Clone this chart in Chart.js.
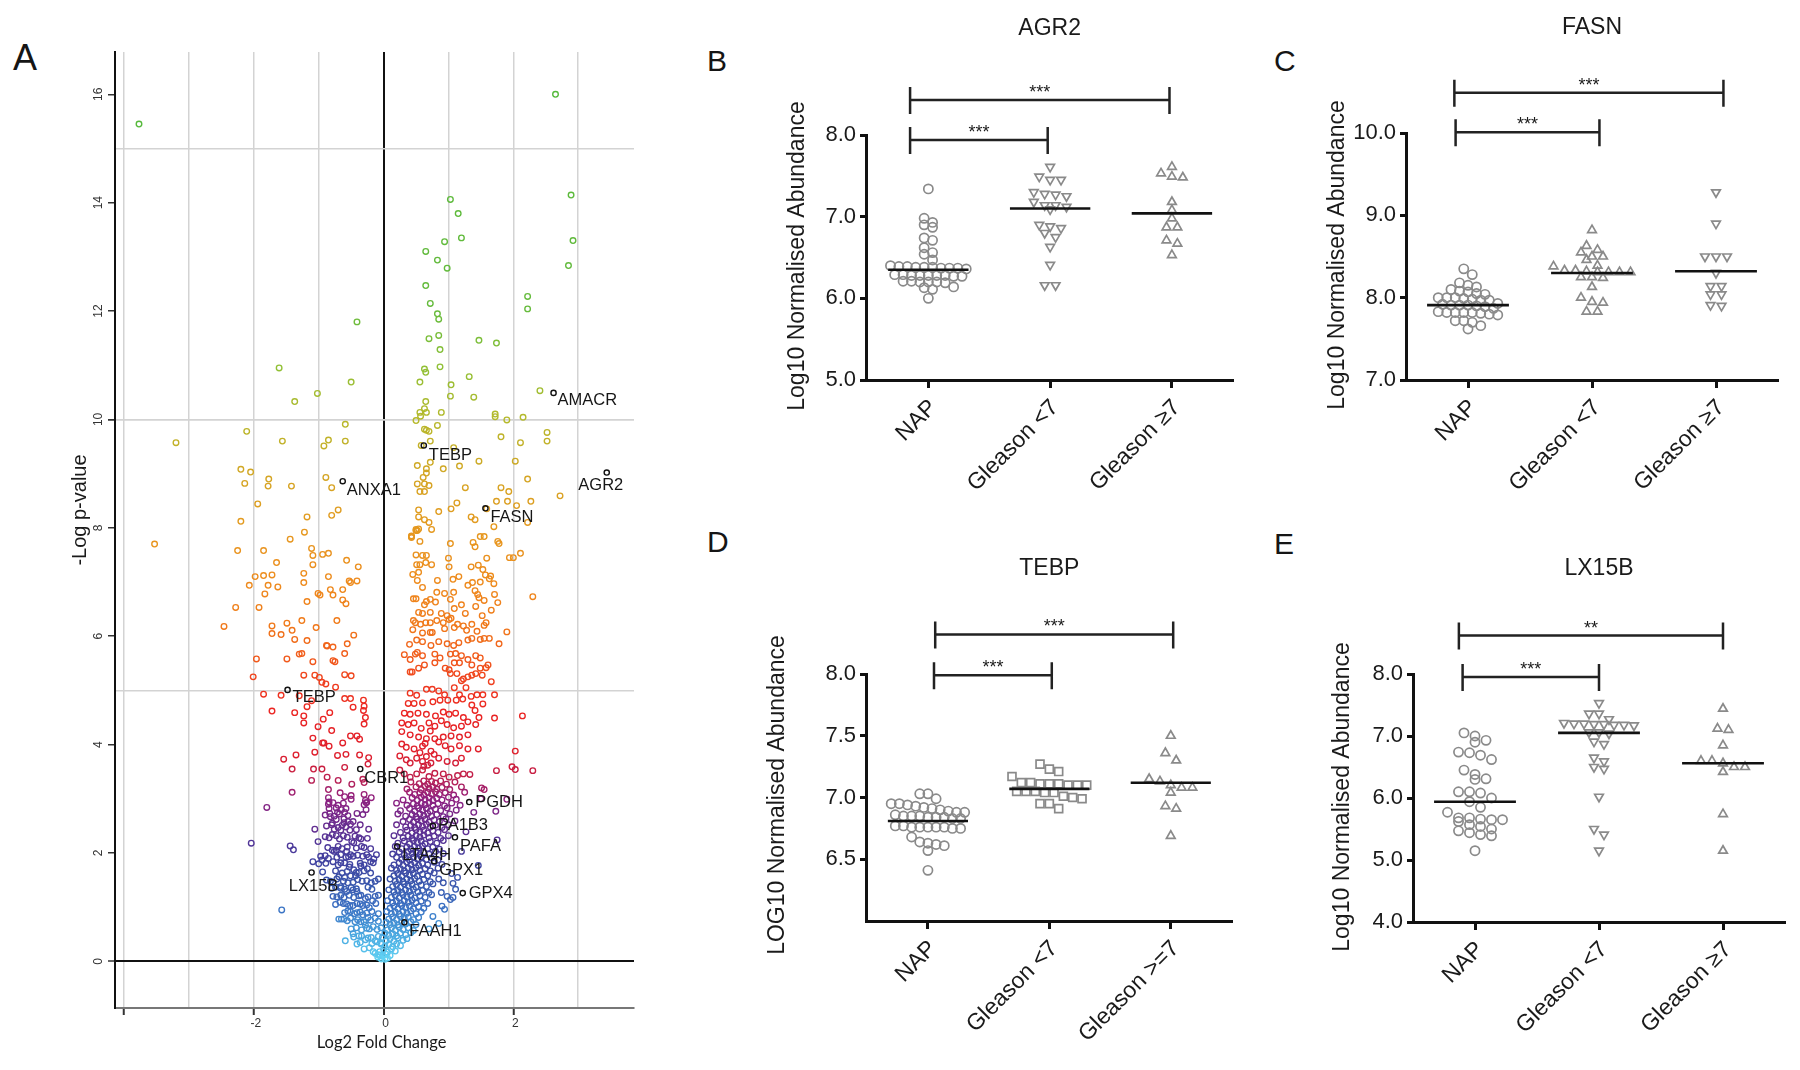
<!DOCTYPE html>
<html>
<head>
<meta charset="utf-8">
<script src="https://cdn.jsdelivr.net/npm/chart.js@4.4.1/dist/chart.umd.min.js"></script>
<style>
  html, body { margin: 0; padding: 0; background: #fff; }
  body { width: 1800px; height: 1070px; position: relative; overflow: hidden; font-family: 'Liberation Sans', Arial, sans-serif; }
  canvas { position: absolute; }
  .letter { position: absolute; line-height: 1; color: #151515; }
</style>
</head>
<body>
<div class="letter" style="left:13px;top:40px;font-size:36px">A</div>
<div class="letter" style="left:707px;top:46px;font-size:30px">B</div>
<div class="letter" style="left:1274px;top:46px;font-size:30px">C</div>
<div class="letter" style="left:707px;top:527px;font-size:30px">D</div>
<div class="letter" style="left:1274px;top:529px;font-size:30px">E</div>

<canvas id="volcano" width="680" height="1070" style="left:0;top:0"></canvas>
<canvas id="agr2" width="560" height="520" style="left:680px;top:0"></canvas>
<canvas id="fasn" width="560" height="520" style="left:1240px;top:0"></canvas>
<canvas id="tebp" width="560" height="550" style="left:680px;top:520px"></canvas>
<canvas id="lx15b" width="560" height="550" style="left:1240px;top:520px"></canvas>

<script>
// ---- volcano plot (panel A): [log2 fold change, -log p] ----
const volcanoPoints = [
  // green / yellow top part
  [-3.77,15.45],[2.65,16.0],[1.03,14.06],[1.15,13.8],[1.20,13.35],[0.94,13.28],[0.65,13.1],[0.83,12.94],[0.98,12.79],
  [2.89,14.14],[2.92,13.3],[2.85,12.84],[0.65,12.47],[0.72,12.14],[0.83,11.95],[0.85,11.85],[-0.41,11.8],[2.22,12.27],
  [2.22,12.04],[0.70,11.49],[0.85,11.55],[0.87,11.29],[1.47,11.46],[1.74,11.41],[0.87,10.97],[-1.61,10.95],[0.63,10.93],
  [0.65,10.87],[1.32,10.79],[-0.50,10.69],[0.56,10.69],[1.04,10.64],[-1.02,10.48],[-1.37,10.33],[1.03,10.43],[1.39,10.41],
  [2.41,10.53],[0.65,10.33],[0.63,10.2],[0.56,10.13],[0.66,10.13],[0.89,10.13],[0.50,9.98],[0.57,10.06],[1.72,10.1],
  [1.72,10.05],[1.90,9.99],[2.15,10.04],[-0.59,9.91],[-2.11,9.78],[-3.2,9.57],[-1.56,9.6],[-0.92,9.51],[-0.85,9.62],
  [-0.59,9.6],[0.63,9.82],[0.66,9.8],[0.70,9.78],[0.83,9.89],[0.72,9.6],[0.58,9.52],[1.08,9.48],[1.81,9.68],[2.11,9.57],
  [2.52,9.76],[2.52,9.6],[0.72,9.21],[1.47,9.23],[2.03,9.23],[0.52,9.15],[0.66,9.09],[0.66,9.01],[0.92,9.09],[1.17,9.14],
  [-2.2,9.08],[-2.05,9.03],[-1.77,8.9],[-2.14,8.82],[-1.78,8.77],[-1.42,8.77],[-0.89,8.93],[-0.8,8.74],[0.61,8.93],
  [0.52,8.81],[0.63,8.81],[0.7,8.78],[0.56,8.67],[0.63,8.67],[1.26,8.74],[1.81,8.74],[1.93,8.67],[2.22,8.9],[2.72,8.59],
  [-1.94,8.44],[1.13,8.46],[1.74,8.49],[1.91,8.49],[2.27,8.49],[2.05,8.41],[-0.7,8.33],[-0.8,8.23],[-1.18,8.2],[-2.2,8.12],
  [0.54,8.33],[0.54,8.2],[0.63,8.15],[0.7,8.1],[0.74,7.97],[0.85,8.3],[1.04,8.35],[1.35,8.2],[1.41,8.15],[1.59,8.35],
  [2.22,8.1],[1.7,8.02],[-1.22,7.92],[0.5,7.97],[0.52,7.95],[0.43,7.85],[0.43,7.82],[-3.53,7.7],[-1.44,7.79],
  // left side, orange
  [-2.25,7.58],[-1.85,7.58],[-1.11,7.62],[-1.09,7.49],[-0.94,7.51],[-0.85,7.53],[-1.65,7.36],[-1.09,7.32],[-0.57,7.4],
  [-0.39,7.28],[-1.23,7.16],[-1.98,7.1],[-1.85,7.12],[-1.72,7.13],[-0.85,7.1],[-2.07,6.94],[-1.78,6.94],[-1.63,6.91],
  [-1.23,6.99],[-0.53,7.02],[-0.41,7.02],[-0.51,6.99],[-1.83,6.78],[-1.01,6.79],[-0.98,6.76],[-0.78,6.76],[-0.82,6.86],
  [-0.63,6.86],[-1.18,6.64],[-0.63,6.67],[-0.58,6.6],[-2.28,6.53],[-1.92,6.53],[-2.46,6.18],[-1.72,6.19],[-1.72,6.05],
  [-1.49,6.24],[-1.58,6.03],[-1.41,6.11],[-1.26,6.29],[-1.04,6.16],[-0.72,6.29],[-1.37,5.94],[-1.18,5.92],[-0.88,5.83],
  [-0.87,5.82],[-0.78,5.8],[-0.56,5.86],[-0.46,6.02],
  // left side, red
  [-1.96,5.58],[-1.49,5.58],[-1.3,5.67],[-1.26,5.68],[-1.09,5.53],[-0.78,5.55],[-0.75,5.53],[-0.6,5.68],[-2.01,5.25],
  [-1.23,5.28],[-1.06,5.28],[-0.99,5.24],[-0.6,5.29],[-0.5,5.27],[-0.95,5.15],[-0.89,5.12],[-0.74,5.06],[-1.85,4.93],
  [-1.58,4.91],[-1.3,4.9],[-1.11,4.81],[-0.6,4.85],[-0.51,4.85],[-0.31,4.82],[-0.3,4.71],[-0.31,4.63],[-0.28,4.5],
  [-0.3,4.38],[-1.72,4.62],[-1.37,4.59],[-1.18,4.7],[-1.23,4.53],[-1.23,4.4],[-0.83,4.59],[-0.47,4.69],[-0.93,4.47],
  [-1.01,4.33],[-0.8,4.26],[-0.51,4.16],[-0.41,4.16],[-0.37,4.1],[-1.09,4.12],[-0.94,4.03],[-0.92,4.03],[-0.63,4.03],
  [-0.84,3.97],[-1.06,3.86],[-1.35,3.81],[-1.54,3.73],[-0.71,3.8],[-0.58,3.82],[-0.37,3.81],[-0.23,3.76],[-0.24,3.64],
  [-1.41,3.55],[-1.08,3.55],[-0.95,3.55],[-1.11,3.34],[-0.87,3.4],[-0.7,3.34],[-0.6,3.58],[-0.49,3.27],[-0.32,3.36],[-0.3,3.3],
  // left side, purple
  [-1.41,3.12],[-1.8,2.84],[-0.85,3.17],[-0.85,3.02],[-0.67,3.11],[-0.6,3.04],[-0.5,3.06],[-0.5,2.99],[-0.3,3.08],
  [-0.28,2.97],[-0.19,3.02],[-0.84,2.94],[-0.84,2.82],[-0.73,2.83],[-0.71,2.75],[-0.65,2.8],[-0.58,2.82],[-0.6,2.75],
  [-0.41,2.73],[-0.27,2.8],[-0.27,2.93],[-0.82,2.67],[-0.79,2.55],[-0.73,2.62],[-0.61,2.63],[-0.61,2.56],[-0.55,2.58],
  [-0.47,2.58],[-0.51,2.53],[-0.42,2.43],[-1.06,2.44],[-0.76,2.44],[-0.66,2.42],[-0.79,2.34],[-0.73,2.32],[-0.52,2.42],
  [-0.23,2.44],[-0.68,2.26],[-2.04,2.18],[-1.44,2.13],[-1.39,2.06],[-1.01,2.21],[-0.49,2.21],[-0.46,2.19],[-0.35,2.26],
  [-0.25,2.27],[-0.3,2.1],
  // left side, blue
  [-0.79,2.05],[-0.76,2.03],[-0.73,2.05],[-0.57,2.03],[-0.51,1.97],[-0.47,1.94],[-0.97,1.94],[-0.95,1.87],[-1.09,1.84],
  [-0.89,1.81],[-0.85,1.9],[-0.78,1.84],[-0.72,1.92],[-0.58,1.92],[-0.6,1.82],[-0.53,1.74],[-0.46,1.69],[-0.42,1.64],
  [-0.23,1.92],[-0.2,1.84],[-0.15,1.89],[-0.11,1.97],[-0.35,1.76],[-0.25,1.71],[-0.43,1.58],[-0.51,1.58],[-0.6,1.55],
  [-0.69,1.56],[-0.82,1.48],[-0.78,1.45],[-0.66,1.38],[-0.55,1.45],[-0.47,1.46],[-0.33,1.48],[-0.19,1.45],[-0.13,1.48],
  [-0.66,1.35],[-0.57,1.29],[-0.47,1.32],[-0.72,1.19],[-0.61,1.18],[-0.53,1.22],[-0.41,1.29],[-0.35,1.22],[-0.28,1.16],
  [-0.13,1.2],[-0.17,1.12],[-1.57,0.95],[-0.67,1.09],[-0.57,1.06],[-0.47,1.03],[-0.41,1.07],[-0.32,1.03],[-0.22,0.99],
  [-0.51,0.92],[-0.41,0.9],[-0.32,0.86],[-0.69,0.78],[-0.65,0.78],[-0.61,0.78],[-0.51,0.8],[-0.44,0.73],[-0.35,0.73],
  [-0.24,0.81],[-0.13,0.8],[-0.28,0.67],[-0.22,0.6],[-0.16,0.64],[-0.59,0.38],[-0.41,0.32],[-0.47,0.51],[-0.38,0.47],
  [-0.28,0.4],[-0.19,0.44],[-0.13,0.38],[-0.3,0.23],[-0.22,0.25],[-0.16,0.18],[-0.09,0.08],[-0.06,0.12],[-0.13,0.15],[-0.03,0.05],
  // left core, filled in
  [-0.85,2.9],[-0.78,2.93],[-0.7,2.88],[-0.62,2.92],[-0.3,2.89],[-0.26,2.93],[-0.9,2.7],[-0.83,2.73],[-0.76,2.68],
  [-0.68,2.72],[-0.55,2.69],[-0.32,2.71],[-0.88,2.5],[-0.8,2.52],[-0.7,2.47],[-0.64,2.51],[-0.58,2.48],[-0.36,2.52],
  [-0.9,2.3],[-0.84,2.28],[-0.62,2.32],[-0.56,2.29],[-0.44,2.31],[-0.38,2.28],[-0.86,2.1],[-0.7,2.12],[-0.64,2.08],
  [-0.56,2.11],[-0.42,2.09],[-0.34,2.12],[-0.2,2.08],[-0.9,1.95],[-0.66,1.97],[-0.54,1.93],[-0.4,1.96],[-0.32,1.94],
  [-0.26,1.97],[-1.0,1.8],[-0.7,1.78],[-0.66,1.82],[-0.52,1.79],[-0.36,1.81],[-0.3,1.78],[-0.16,1.82],[-0.94,1.65],
  [-0.74,1.67],[-0.64,1.63],[-0.56,1.66],[-0.38,1.64],[-0.3,1.67],[-0.2,1.63],[-0.88,1.5],[-0.72,1.52],[-0.62,1.48],
  [-0.4,1.51],[-0.26,1.49],[-0.08,1.52],[-0.8,1.35],[-0.74,1.37],[-0.6,1.33],[-0.5,1.36],[-0.42,1.34],[-0.24,1.37],
  [-0.18,1.33],[-0.78,1.2],[-0.66,1.22],[-0.46,1.18],[-0.38,1.21],[-0.24,1.19],[-0.08,1.22],[-0.74,1.05],[-0.62,1.07],
  [-0.52,1.03],[-0.36,1.06],[-0.26,1.04],[-0.12,1.07],[-0.6,0.9],[-0.55,0.93],[-0.45,0.88],[-0.36,0.91],[-0.26,0.89],
  [-0.18,0.92],[-0.08,0.88],[-0.56,0.75],[-0.4,0.77],[-0.3,0.73],[-0.2,0.76],[-0.08,0.74],[-0.5,0.6],[-0.42,0.62],
  [-0.34,0.58],[-0.26,0.61],[-0.1,0.59],[-0.04,0.62],[-0.46,0.45],[-0.34,0.47],[-0.24,0.43],[-0.08,0.46],[-0.02,0.44],
  [-0.36,0.35],[-0.18,0.33],[-0.1,0.36],[-0.04,0.34],
  // right side, orange
  [0.43,7.84],[0.5,7.95],[0.54,7.98],[0.56,7.75],[1.03,7.71],[1.38,7.73],[1.49,7.84],[1.55,7.84],[1.41,7.65],[1.59,7.44],
  [1.76,7.75],[1.78,7.71],[1.94,7.45],[2.0,7.45],[2.11,7.53],[2.3,6.73],[0.5,7.5],[0.6,7.49],[0.66,7.49],[1.0,7.44],
  [0.51,7.32],[0.56,7.32],[0.65,7.36],[0.74,7.32],[1.01,7.28],[1.35,7.28],[1.46,7.31],[0.45,7.14],[0.54,7.18],[0.52,7.03],
  [0.83,7.03],[1.07,7.05],[1.16,7.1],[1.3,6.94],[1.37,6.99],[1.49,7.0],[1.53,7.23],[1.57,7.13],[1.65,7.11],[1.7,6.97],
  [1.63,7.06],[0.6,6.9],[0.46,6.69],[0.5,6.69],[0.63,6.58],[0.66,6.64],[0.72,6.68],[0.8,6.63],[0.82,6.81],[0.94,6.79],
  [1.08,6.81],[1.03,6.68],[1.41,6.84],[1.45,6.77],[1.47,6.71],[1.55,6.66],[1.71,6.77],[1.76,6.62],[1.2,6.58],[1.09,6.51],
  [1.26,6.42],[1.42,6.55],[1.52,6.38],[1.66,6.48],[0.54,6.44],[0.6,6.42],[0.72,6.44],[0.89,6.42],[0.98,6.38],[1.04,6.33],
  [0.46,6.29],[0.49,6.25],[0.57,6.22],[0.65,6.25],[0.72,6.25],[0.82,6.29],[0.92,6.25],[1.01,6.31],[1.14,6.22],[1.23,6.19],
  [1.36,6.22],[1.58,6.25],[1.55,6.2],[1.9,6.08],[0.45,6.12],[0.6,6.06],[0.72,6.07],[0.75,6.07],[0.94,6.14],[1.09,6.16],
  [1.28,6.11],[1.44,6.09],[0.4,5.85],[0.51,5.93],[0.6,5.9],[0.73,5.83],[0.85,5.9],[0.98,5.86],[1.08,5.83],[1.16,5.88],
  [1.3,5.93],[1.36,5.96],[1.49,5.94],[1.55,5.96],[1.78,5.86],[1.63,5.96],
  // right side, red
  [0.32,5.66],[0.41,5.57],[0.49,5.67],[0.52,5.7],[0.6,5.64],[0.79,5.67],[0.87,5.6],[1.03,5.67],[1.11,5.68],[1.2,5.64],
  [1.3,5.57],[1.42,5.64],[1.49,5.6],[0.41,5.34],[0.44,5.34],[0.54,5.41],[0.63,5.47],[0.79,5.51],[0.95,5.41],[1.01,5.38],
  [1.09,5.51],[1.17,5.51],[1.36,5.47],[1.49,5.41],[1.58,5.42],[1.61,5.47],[0.41,4.95],[0.51,4.91],[0.66,5.02],[0.75,5.02],
  [0.85,4.99],[0.94,4.92],[1.03,5.31],[1.13,5.31],[1.2,5.18],[1.23,5.21],[1.3,5.25],[1.36,5.28],[1.42,5.31],[1.52,5.28],
  [1.66,5.16],[1.09,5.05],[1.17,4.92],[1.27,5.05],[1.35,4.89],[1.44,4.92],[1.53,4.92],[1.71,4.92],[0.38,4.76],[0.47,4.76],
  [0.6,4.77],[0.76,4.79],[0.87,4.82],[0.99,4.82],[1.12,4.82],[1.22,4.84],[1.36,4.73],[1.53,4.75],[0.32,4.58],[0.41,4.56],
  [0.53,4.58],[0.66,4.56],[0.8,4.53],[0.92,4.6],[1.01,4.56],[1.11,4.58],[1.23,4.5],[1.41,4.63],[1.47,4.5],[2.14,4.53],
  [1.71,4.49],[0.28,4.4],[0.38,4.37],[0.47,4.4],[0.7,4.4],[0.79,4.34],[0.89,4.44],[0.98,4.37],[1.08,4.31],[1.2,4.34],
  [1.3,4.42],[1.42,4.37],[0.28,4.24],[0.41,4.18],[0.54,4.14],[0.66,4.11],[0.79,4.11],[0.92,4.14],[1.04,4.16],[1.17,4.14],
  [1.3,4.18],[0.28,4.01],[0.35,3.95],[0.47,3.92],[0.6,3.97],[0.73,3.88],[0.85,4.05],[0.95,3.98],[1.04,3.92],[1.17,3.98],
  [1.3,3.92],[1.46,3.92],[2.03,3.88],[1.98,3.59],[2.03,3.54],[2.3,3.52],[1.74,3.52],[0.25,3.79],[0.35,3.72],[0.41,3.66],
  [0.51,3.75],[0.6,3.69],[0.73,3.66],[0.85,3.75],[0.98,3.69],[1.11,3.66],[1.2,3.75],[0.25,3.53],[0.32,3.46],[0.41,3.4],
  [0.51,3.46],[0.6,3.53],[0.7,3.41],[0.79,3.47],[0.92,3.46],[1.01,3.4],[1.14,3.43],[1.23,3.46],[1.33,3.45],
  [0.62,3.6],[0.68,3.62],[0.66,3.78],[0.56,3.85],[0.78,3.82],[0.64,4.02],[0.72,4.25],[0.58,4.3],
  // right core
  [0.42,3.31],[0.55,3.28],[0.62,3.33],[0.68,3.27],[0.74,3.32],[0.8,3.29],[0.88,3.33],[0.97,3.27],[1.1,3.31],
  [0.36,3.18],[0.5,3.22],[0.58,3.17],[0.64,3.23],[0.7,3.19],[0.76,3.22],[0.82,3.18],[0.9,3.21],[1.02,3.17],[1.2,3.22],
  [0.4,3.12],[0.48,3.08],[0.56,3.11],[0.62,3.07],[0.68,3.12],[0.74,3.09],[0.8,3.13],[0.86,3.08],[0.95,3.11],[1.08,3.07],[1.25,3.12],
  [0.3,2.98],[0.44,3.02],[0.52,2.97],[0.58,3.03],[0.64,2.99],[0.7,3.02],[0.76,2.97],[0.82,3.01],[0.9,2.98],[1.0,3.03],[1.12,2.99],[1.5,3.0],
  [0.2,2.92],[0.36,2.88],[0.46,2.91],[0.52,2.87],[0.58,2.92],[0.64,2.89],[0.7,2.93],[0.76,2.88],[0.84,2.91],[0.94,2.87],[1.05,2.92],[1.18,2.88],
  [0.26,2.78],[0.4,2.82],[0.48,2.77],[0.54,2.83],[0.6,2.79],[0.66,2.82],[0.72,2.77],[0.8,2.81],[0.88,2.78],[0.98,2.83],[1.12,2.79],
  [0.22,2.72],[0.34,2.68],[0.44,2.71],[0.5,2.67],[0.56,2.72],[0.62,2.69],[0.68,2.73],[0.74,2.68],[0.82,2.71],[0.92,2.67],[1.02,2.72],
  [0.3,2.58],[0.4,2.62],[0.46,2.57],[0.52,2.63],[0.58,2.59],[0.64,2.62],[0.7,2.57],[0.78,2.61],[0.86,2.58],[0.96,2.63],[1.1,2.59],
  [0.2,2.52],[0.34,2.48],[0.42,2.51],[0.48,2.47],[0.54,2.52],[0.6,2.49],[0.66,2.53],[0.72,2.48],[0.8,2.51],[0.9,2.47],[1.0,2.52],
  [0.26,2.38],[0.36,2.42],[0.44,2.37],[0.5,2.43],[0.56,2.39],[0.62,2.42],[0.68,2.37],[0.76,2.41],[0.84,2.38],[0.94,2.43],
  [0.16,2.32],[0.3,2.28],[0.38,2.31],[0.44,2.27],[0.5,2.32],[0.56,2.29],[0.62,2.33],[0.7,2.28],[0.78,2.31],[0.88,2.27],[1.0,2.32],
  [0.22,2.18],[0.32,2.22],[0.4,2.17],[0.46,2.23],[0.52,2.19],[0.58,2.22],[0.64,2.17],[0.72,2.21],[0.82,2.18],[0.92,2.23],
  [0.18,2.12],[0.28,2.08],[0.36,2.11],[0.42,2.07],[0.48,2.12],[0.54,2.09],[0.6,2.13],[0.68,2.08],[0.76,2.11],[0.86,2.07],
  [0.14,1.98],[0.24,2.02],[0.32,1.97],[0.38,2.03],[0.44,1.99],[0.5,2.02],[0.56,1.97],[0.62,2.01],[0.7,1.98],[0.8,2.03],[0.92,1.99],
  [0.2,1.92],[0.28,1.88],[0.34,1.91],[0.4,1.87],[0.46,1.92],[0.52,1.89],[0.58,1.93],[0.66,1.88],[0.74,1.91],[0.84,1.87],
  [0.16,1.78],[0.24,1.82],[0.3,1.77],[0.36,1.83],[0.42,1.79],[0.48,1.82],[0.54,1.77],[0.6,1.81],[0.68,1.78],[0.78,1.83],[0.9,1.79],
  [0.12,1.72],[0.2,1.68],[0.26,1.71],[0.32,1.67],[0.38,1.72],[0.44,1.69],[0.5,1.73],[0.56,1.68],[0.64,1.71],[0.72,1.67],[0.84,1.72],
  [0.16,1.58],[0.22,1.62],[0.28,1.57],[0.34,1.63],[0.4,1.59],[0.46,1.62],[0.52,1.57],[0.6,1.61],[0.68,1.58],[0.78,1.63],
  [0.1,1.52],[0.18,1.48],[0.24,1.51],[0.3,1.47],[0.36,1.52],[0.42,1.49],[0.48,1.53],[0.55,1.48],[0.62,1.51],[0.72,1.47],[0.85,1.52],
  [0.14,1.38],[0.2,1.42],[0.26,1.37],[0.32,1.43],[0.38,1.39],[0.44,1.42],[0.5,1.37],[0.58,1.41],[0.66,1.38],[0.76,1.43],
  [0.08,1.32],[0.16,1.28],[0.22,1.31],[0.28,1.27],[0.34,1.32],[0.4,1.29],[0.46,1.33],[0.53,1.28],[0.6,1.31],[0.7,1.27],
  [0.12,1.18],[0.18,1.22],[0.24,1.17],[0.3,1.23],[0.36,1.19],[0.42,1.22],[0.48,1.17],[0.56,1.21],[0.64,1.18],[0.74,1.23],
  [0.06,1.12],[0.14,1.08],[0.2,1.11],[0.26,1.07],[0.32,1.12],[0.38,1.09],[0.44,1.13],[0.5,1.08],[0.58,1.11],[0.68,1.07],
  [0.1,0.98],[0.16,1.02],[0.22,0.97],[0.28,1.03],[0.34,0.99],[0.4,1.02],[0.46,0.97],[0.54,1.01],[0.62,0.98],
  [0.05,0.92],[0.12,0.88],[0.18,0.91],[0.24,0.87],[0.3,0.92],[0.36,0.89],[0.42,0.93],[0.5,0.88],[0.58,0.91],
  [0.08,0.78],[0.14,0.82],[0.2,0.77],[0.26,0.83],[0.32,0.79],[0.38,0.82],[0.46,0.77],[0.54,0.81],
  [0.04,0.72],[0.1,0.68],[0.16,0.71],[0.22,0.67],[0.28,0.72],[0.34,0.69],[0.42,0.73],[0.5,0.68],
  [0.06,0.58],[0.12,0.62],[0.18,0.57],[0.24,0.63],[0.3,0.59],[0.38,0.62],[0.46,0.57],
  [0.02,0.52],[0.08,0.48],[0.14,0.51],[0.2,0.47],[0.26,0.52],[0.34,0.49],[0.42,0.53],
  [0.04,0.38],[0.1,0.42],[0.16,0.37],[0.22,0.43],[0.3,0.39],[0.36,0.42],
  [-0.04,0.32],[0.02,0.28],[0.08,0.31],[0.14,0.27],[0.2,0.32],[0.26,0.29],
  [-0.06,0.18],[0.0,0.22],[0.06,0.17],[0.12,0.23],[0.18,0.19],
  [-0.08,0.12],[-0.02,0.1],[0.04,0.13],[0.1,0.11],[-0.04,0.05],[0.02,0.04],[0.06,0.06],
  // right tail
  [1.46,1.77],[1.14,1.55],[1.11,1.33],[1.03,1.14],[0.94,0.96],[0.76,0.83],[0.92,1.45],[0.89,1.27],[1.2,2.03],[1.75,2.24],
  [1.9,2.99],[1.73,2.77],[1.55,3.17],[1.39,2.75],[1.27,2.39],[1.05,1.62],[0.98,1.2],[0.85,0.7],[0.7,0.6],[1.51,3.2],
  [1.07,1.18],[0.9,1.02],[1.07,1.44]
];

// labelled proteins on the volcano plot
const geneNames = ['AMACR','AGR2','TEBP','ANXA1','FASN','TEBP','CBR1','PGDH','PA1B3','PAFA','LTA4H','GPX1','GPX4','LX15B','FAAH1'];
const geneX = [2.62, 3.44, 0.62, -0.63, 1.57, -1.48, -0.36, 1.32, 0.76, 1.1, 0.21, 0.78, 1.22, -1.11, 0.32];
const geneY = [10.49, 9.02, 9.52, 8.86, 8.36, 5.01, 3.55, 2.94, 2.5, 2.29, 2.12, 1.85, 1.26, 1.64, 0.72];

const volcanoXTicks = [-4, -3, -2, -1, 0, 1, 2, 3];
const volcanoXLabels = [-2, 0, 2];
const volcanoYTicks = [0, 2, 4, 6, 8, 10, 12, 14, 16];
const volcanoYGuides = [5, 10, 15];

// ---- dot plots (panels B-E), Log10 normalised abundance per sample ----
const groupNames = ['NAP', 'Gleason <7', 'Gleason \u22657'];
const tebpGroupNames = ['NAP', 'Gleason <7', 'Gleason >=7'];

const agr2Nap = [7.34,6.98,6.93,6.9,6.87,6.74,6.71,6.62,6.56,6.54,6.47,
  6.4,6.39,6.38,6.38,6.37,6.37,6.37,6.36,6.38,6.39,
  6.29,6.28,6.28,6.27,6.28,6.29,6.27,6.28,6.28,
  6.21,6.2,6.19,6.2,6.21,6.2,6.14,6.13,6.11,6.0];
const agr2Low = [7.61,7.49,7.45,7.45,7.3,7.27,7.25,7.28,7.18,7.14,7.12,7.09,7.14,6.9,6.86,6.88,6.8,6.75,6.63,6.41,6.16,6.16];
const agr2High = [7.53,7.48,7.49,7.61,7.18,7.08,6.98,6.87,6.87,6.71,6.67,6.53];
const agr2Medians = [6.35, 7.1, 7.04];
const agr2Ticks = [5, 6, 7, 8];
const agr2Brackets = [[-0.15, 0.98, 7.94, '***'], [-0.15, 1.98, 8.43, '***']];

const fasnNap = [8.35,8.28,8.15,8.18,8.13,8.07,8.05,8.08,8.1,8.04,8.0,7.98,7.97,8.0,7.97,7.99,8.0,7.91,7.89,7.91,7.87,7.9,7.91,
  7.92,7.93,7.82,7.81,7.83,7.82,7.8,7.79,7.82,7.82,7.7,7.72,7.72,7.62,7.66];
const fasnLow = [8.82,8.58,8.5,8.63,8.55,8.5,8.46,8.39,8.38,8.33,8.33,8.31,8.31,8.31,8.31,8.32,8.25,8.25,8.24,8.13,8.0,7.95,7.94,7.83,7.83];
const fasnHigh = [9.28,8.9,8.5,8.5,8.5,8.3,8.14,8.14,8.04,8.04,7.9,7.91];
const fasnMedians = [7.91, 8.3, 8.32];
const fasnTicks = [7, 8, 9, 10];
const fasnBrackets = [[-0.1, 1.06, 10.01, '***'], [-0.11, 2.06, 10.49, '***']];

const tebpNap = [7.03,6.99,7.03,6.95,6.93,6.91,6.89,6.88,6.88,6.9,6.92,6.94,6.95,6.86,6.84,6.85,6.83,6.85,6.85,6.84,6.83,6.84,
  6.76,6.76,6.76,6.77,6.75,6.76,6.75,6.77,6.76,6.68,6.63,6.61,6.57,6.62,6.64,6.41];
const tebpLow = [7.27,7.23,7.21,7.17,7.11,7.1,7.12,7.12,7.11,7.1,7.11,7.1,7.05,7.04,7.05,7.05,7.04,7.0,7.01,6.99,6.95,6.91,6.95];
const tebpHigh = [7.5,7.36,7.3,7.15,7.13,7.08,7.04,7.08,7.1,6.93,6.91,6.69];
const tebpMedians = [6.81, 7.07, 7.12];
const tebpTicks = [6.5, 7, 7.5, 8];
const tebpBrackets = [[0.05, 1.02, 7.99, '***'], [0.06, 2.02, 8.32, '***']];

const lx15bNap = [7.05,6.93,6.9,7.0,6.74,6.62,6.69,6.73,6.45,6.31,6.3,6.38,6.1,6.08,6.1,5.94,6.0,5.85,5.77,5.68,5.66,5.65,5.65,
  5.68,5.62,5.54,5.47,5.41,5.39,5.44,5.5,5.57,5.15];
const lx15bLow = [7.53,7.36,7.27,7.36,7.2,7.19,7.18,7.18,7.19,7.17,7.2,7.21,7.06,7.04,7.06,6.87,6.91,6.65,6.5,6.47,6.59,6.02,5.5,5.41,5.15];
const lx15bHigh = [7.44,7.12,7.1,6.85,6.6,6.5,6.6,6.5,6.56,6.42,5.74,5.15];
const lx15bMedians = [5.94, 7.05, 6.56];
const lx15bTicks = [4, 5, 6, 7, 8];
const lx15bBrackets = [[-0.1, 1.0, 7.95, '***'], [-0.13, 2.0, 8.62, '**']];

// ---------------------------------------------------------------------
const SANS = "'Liberation Sans', Arial, sans-serif";
Chart.defaults.font.family = SANS;
Chart.defaults.color = '#1a1a1a';

// colour ramp of the volcano plot by -log p
const colorStops = [[0,'#62d6f5'],[0.5,'#48a5df'],[1.0,'#3b70c2'],[1.5,'#3a53aa'],[2.0,'#463c9c'],[2.5,'#662c90'],
  [3.0,'#902180'],[3.4,'#be1f4c'],[3.8,'#df1f2d'],[4.6,'#eb2422'],[5.1,'#ef3b1e'],[5.6,'#f15a1b'],[6.2,'#f0791a'],
  [7.0,'#ee8b1d'],[8.0,'#e5991f'],[9.0,'#d3a624'],[10.0,'#b5b92b'],[11.0,'#8fc036'],[12.0,'#66bb3c'],[17,'#4fb83a']];
function hexRgb(h) { const n = parseInt(h.slice(1), 16); return [n >> 16 & 255, n >> 8 & 255, n & 255]; }
function bandColor(y) {
  if (y <= colorStops[0][0]) return colorStops[0][1];
  for (let i = 1; i < colorStops.length; i++) {
    if (y <= colorStops[i][0]) {
      const t = (y - colorStops[i - 1][0]) / (colorStops[i][0] - colorStops[i - 1][0]);
      const a = hexRgb(colorStops[i - 1][1]), b = hexRgb(colorStops[i][1]);
      return 'rgb(' + a.map((v, k) => Math.round(v + (b[k] - v) * t)).join(',') + ')';
    }
  }
  return colorStops[colorStops.length - 1][1];
}

// where each protein name sits next to its point: [dx, dy, align]
const geneLabelPlacement = [[4,8,'left'],[-6,13,'center'],[5,10,'left'],[4,9,'left'],[5,9,'left'],[5,8,'left'],[4,9,'left'],
  [6,0,'left'],[5,0,'left'],[5,9,'left'],[5,9,'left'],[5,9,'left'],[6,0,'left'],[2,14,'center'],[5,9,'left']];

const volcanoDecor = {
  id: 'volcanoDecor',
  afterDatasetsDraw(chart) {
    const { ctx, scales: { x, y } } = chart;
    ctx.save();
    ctx.fillStyle = '#161616';
    ctx.font = '16.5px ' + SANS;
    ctx.textBaseline = 'middle';
    geneNames.forEach((g, i) => {
      const p = geneLabelPlacement[i];
      ctx.textAlign = p[2];
      ctx.fillText(g, x.getPixelForValue(geneX[i]) + p[0], y.getPixelForValue(geneY[i]) + p[1]);
    });
    ctx.restore();
  },
  afterDraw(chart) {
    const { ctx, chartArea: a, scales: { x, y } } = chart;
    ctx.save();
    ctx.fillStyle = '#333';
    ctx.font = '12px ' + SANS;
    ctx.textAlign = 'center';
    ctx.textBaseline = 'middle';
    volcanoYTicks.forEach(v => {
      ctx.save();
      ctx.translate(a.left - 16.5, y.getPixelForValue(v));
      ctx.rotate(-Math.PI / 2);
      ctx.fillText(String(v), 0, 0);
      ctx.restore();
    });
    volcanoXLabels.forEach(v => ctx.fillText(String(v), x.getPixelForValue(v) + 2, a.bottom + 16));
    // axis titles
    ctx.fillStyle = '#1a1a1a';
    ctx.font = '20px ' + SANS;
    ctx.save();
    ctx.translate(80, 510);
    ctx.rotate(-Math.PI / 2);
    ctx.fillText('-Log p-value', 0, 0);
    ctx.restore();
    ctx.font = "16.5px Lato, 'Open Sans', sans-serif";
    ctx.textBaseline = 'alphabetic';
    ctx.fillText('Log2 Fold Change', x.getPixelForValue(0) - 2, 1048);
    ctx.restore();
  }
};

new Chart(document.getElementById('volcano'), {
  type: 'scatter',
  data: {
    datasets: [
      {
        data: geneNames.map((g, i) => ({ x: geneX[i], y: geneY[i] })),
        pointRadius: 2.6, pointBorderWidth: 1.4,
        pointBorderColor: '#111', pointBackgroundColor: 'rgba(0,0,0,0)'
      },
      {
        data: volcanoPoints.map(p => ({ x: p[0], y: p[1] })),
        pointRadius: 2.8, pointBorderWidth: 1.35,
        pointBackgroundColor: 'rgba(0,0,0,0)',
        pointBorderColor: c => bandColor(c.raw ? c.raw.y : 0)
      }
    ]
  },
  options: {
    responsive: false, animation: false, events: [],
    layout: { padding: { left: 105, top: 52, right: 46, bottom: 22 } },
    plugins: { legend: { display: false }, tooltip: { enabled: false } },
    scales: {
      x: {
        type: 'linear', min: -4.14, max: 3.86,
        afterBuildTicks: s => { s.ticks = volcanoXTicks.map(v => ({ value: v })); },
        afterFit: s => { s.height = 40; },
        ticks: { display: false },
        grid: {
          color: c => (c.tick && c.tick.value === 0) ? '#111' : '#d3d3d3',
          lineWidth: c => (c.tick && c.tick.value === 0) ? 2 : 1.5,
          tickColor: c => (c.tick && c.tick.value % 2 === 0) ? '#333' : 'rgba(0,0,0,0)',
          tickLength: 7, tickWidth: 2
        },
        border: { color: '#777', width: 2 }
      },
      y: {
        type: 'linear', min: -0.86, max: 16.78,
        afterBuildTicks: s => {
          s.ticks = volcanoYTicks.concat(volcanoYGuides).sort((a, b) => a - b).map(v => ({ value: v }));
        },
        afterFit: s => { s.width = 10; },
        ticks: { display: false },
        grid: {
          color: c => {
            const v = c.tick ? c.tick.value : 1;
            return v === 0 ? '#111' : (volcanoYGuides.includes(v) ? '#d3d3d3' : 'rgba(0,0,0,0)');
          },
          lineWidth: c => (c.tick && c.tick.value === 0) ? 2 : 1.5,
          tickColor: c => (c.tick && volcanoYTicks.includes(c.tick.value)) ? '#333' : 'rgba(0,0,0,0)',
          tickLength: 7, tickWidth: 1.5
        },
        border: { color: '#111', width: 2 }
      }
    }
  },
  plugins: [volcanoDecor]
});

// ---- dot plot panels ----
const markerStyles = {
  circle: { pointStyle: 'circle', radius: 4.6, rotation: 0 },
  up: { pointStyle: 'triangle', radius: 5, rotation: 0 },
  down: { pointStyle: 'triangle', radius: 5, rotation: 180 },
  square: { pointStyle: 'rect', radius: 5.6, rotation: 0 }
};

// scatter-dot layout: values close in height share a row, spread evenly round the group centre (px)
function rowSpread(values, pxPerUnit, binPx, stepPx) {
  const order = values.map((v, i) => i).sort((a, b) => values[b] - values[a]);
  const out = new Array(values.length);
  let bin = [];
  const flush = () => {
    bin.forEach((idx, k) => { out[idx] = (k - (bin.length - 1) / 2) * stepPx; });
    bin = [];
  };
  order.forEach(i => {
    if (bin.length && (values[bin[0]] - values[i]) * pxPerUnit > binPx) flush();
    bin.push(i);
  });
  flush();
  return out;
}

function dotPanel(p) {
  const cv = document.getElementById(p.id);
  const W = cv.width, H = cv.height;
  const yW = 70, xH = 40;
  const pxY = (p.area.bottom - p.area.top) / (p.yMax - p.yMin);
  const pxX = (p.area.right - p.area.left) / (p.xMax - p.xMin);

  const datasets = [];
  p.medians.forEach((m, i) => datasets.push({
    data: [{ x: i - 0.33, y: m }, { x: i + 0.33, y: m }],
    showLine: true, borderColor: '#111', borderWidth: 2.6, pointRadius: 0
  }));
  p.groups.forEach((vals, i) => {
    const st = markerStyles[p.shapes[i]];
    const off = rowSpread(vals, pxY, p.binPx, p.steps[i]);
    datasets.push({
      data: vals.map((v, j) => ({ x: i + off[j] / pxX, y: v })),
      pointStyle: st.pointStyle, pointRotation: st.rotation, pointRadius: st.radius,
      pointBorderColor: '#8a8a8a', pointBorderWidth: 1.7, pointBackgroundColor: 'rgba(255,255,255,0)'
    });
  });

  const decor = {
    id: 'decor_' + p.id,
    afterDraw(chart) {
      const { ctx, chartArea: a, scales: { x, y } } = chart;
      ctx.save();
      ctx.fillStyle = '#1a1a1a';
      ctx.font = '23px ' + SANS;
      ctx.textAlign = 'center';
      ctx.textBaseline = 'alphabetic';
      ctx.fillText(p.title, (a.left + a.right) / 2, p.titleBase);
      ctx.textBaseline = 'middle';
      ctx.save();
      ctx.translate(p.yTitleX, p.yTitleY);
      ctx.rotate(-Math.PI / 2);
      ctx.fillText(p.yTitle, 0, 0);
      ctx.restore();
      ctx.textAlign = 'right';
      p.categories.forEach((c, i) => {
        ctx.save();
        ctx.translate(x.getPixelForValue(i) + 5, a.bottom + 24);
        ctx.rotate(-Math.PI / 4);
        ctx.fillText(c, 0, 0);
        ctx.restore();
      });
      ctx.strokeStyle = '#222';
      ctx.lineWidth = 2.5;
      ctx.font = '18px ' + SANS;
      ctx.textAlign = 'center';
      ctx.textBaseline = 'alphabetic';
      p.brackets.forEach(b => {
        const x1 = x.getPixelForValue(b[0]), x2 = x.getPixelForValue(b[1]), yy = y.getPixelForValue(b[2]);
        ctx.beginPath();
        ctx.moveTo(x1, yy); ctx.lineTo(x2, yy);
        ctx.moveTo(x1, yy - 13); ctx.lineTo(x1, yy + 14);
        ctx.moveTo(x2, yy - 13); ctx.lineTo(x2, yy + 14);
        ctx.stroke();
        ctx.fillText(b[3], (x1 + x2) / 2, yy - 2);
      });
      ctx.restore();
    }
  };

  new Chart(cv, {
    type: 'scatter',
    data: { datasets },
    options: {
      responsive: false, animation: false, events: [],
      layout: { padding: { left: p.area.left - yW, top: p.area.top, right: W - p.area.right, bottom: H - p.area.bottom - xH } },
      plugins: { legend: { display: false }, tooltip: { enabled: false } },
      scales: {
        x: {
          type: 'linear', min: p.xMin, max: p.xMax,
          afterBuildTicks: s => { s.ticks = p.categories.map((c, i) => ({ value: i })); },
          afterFit: s => { s.height = xH; },
          ticks: { display: false },
          grid: { drawOnChartArea: false, tickLength: 8, tickWidth: 3, tickColor: '#111' },
          border: { color: '#111', width: 3 }
        },
        y: {
          type: 'linear', min: p.yMin, max: p.yMax,
          afterBuildTicks: s => { s.ticks = p.yTicks.map(v => ({ value: v })); },
          afterFit: s => { s.width = yW; },
          ticks: { font: { size: 22 }, color: '#1a1a1a', padding: 4, callback: v => Number(v).toFixed(1) },
          grid: { drawOnChartArea: false, tickLength: 6, tickWidth: 3, tickColor: '#111' },
          border: { color: '#111', width: 3 }
        }
      }
    },
    plugins: [decor]
  });
}

dotPanel({
  id: 'agr2', title: 'AGR2', titleBase: 35, yTitle: 'Log10 Normalised Abundance', yTitleX: 118, yTitleY: 256,
  area: { left: 186, right: 557, top: 135, bottom: 380 }, xMin: -0.512, xMax: 2.504, yMin: 5, yMax: 8,
  yTicks: agr2Ticks, categories: groupNames, groups: [agr2Nap, agr2Low, agr2High], shapes: ['circle', 'down', 'up'],
  binPx: 6, steps: [8.5, 11, 11], medians: agr2Medians, brackets: agr2Brackets
});
dotPanel({
  id: 'fasn', title: 'FASN', titleBase: 34, yTitle: 'Log10 Normalised Abundance', yTitleX: 98, yTitleY: 255,
  area: { left: 166, right: 538, top: 133, bottom: 380 }, xMin: -0.5, xMax: 2.5, yMin: 7, yMax: 10,
  yTicks: fasnTicks, categories: groupNames, groups: [fasnNap, fasnLow, fasnHigh], shapes: ['circle', 'up', 'down'],
  binPx: 6, steps: [8.5, 11, 11], medians: fasnMedians, brackets: fasnBrackets
});
dotPanel({
  id: 'tebp', title: 'TEBP', titleBase: 55, yTitle: 'LOG10 Normalised Abundance', yTitleX: 98, yTitleY: 275,
  area: { left: 186, right: 559, top: 154, bottom: 401 }, xMin: -0.51, xMax: 2.51, yMin: 6, yMax: 8,
  yTicks: tebpTicks, categories: tebpGroupNames, groups: [tebpNap, tebpLow, tebpHigh], shapes: ['circle', 'square', 'up'],
  binPx: 9, steps: [8.3, 9.5, 11], medians: tebpMedians, brackets: tebpBrackets
});
dotPanel({
  id: 'lx15b', title: 'LX15B', titleBase: 55, yTitle: 'Log10 Normalised Abundance', yTitleX: 103, yTitleY: 277,
  area: { left: 173, right: 545, top: 154, bottom: 402 }, xMin: -0.5, xMax: 2.5, yMin: 4, yMax: 8,
  yTicks: lx15bTicks, categories: groupNames, groups: [lx15bNap, lx15bLow, lx15bHigh], shapes: ['circle', 'down', 'up'],
  binPx: 9, steps: [11, 10, 11], medians: lx15bMedians, brackets: lx15bBrackets
});
</script>
</body>
</html>
